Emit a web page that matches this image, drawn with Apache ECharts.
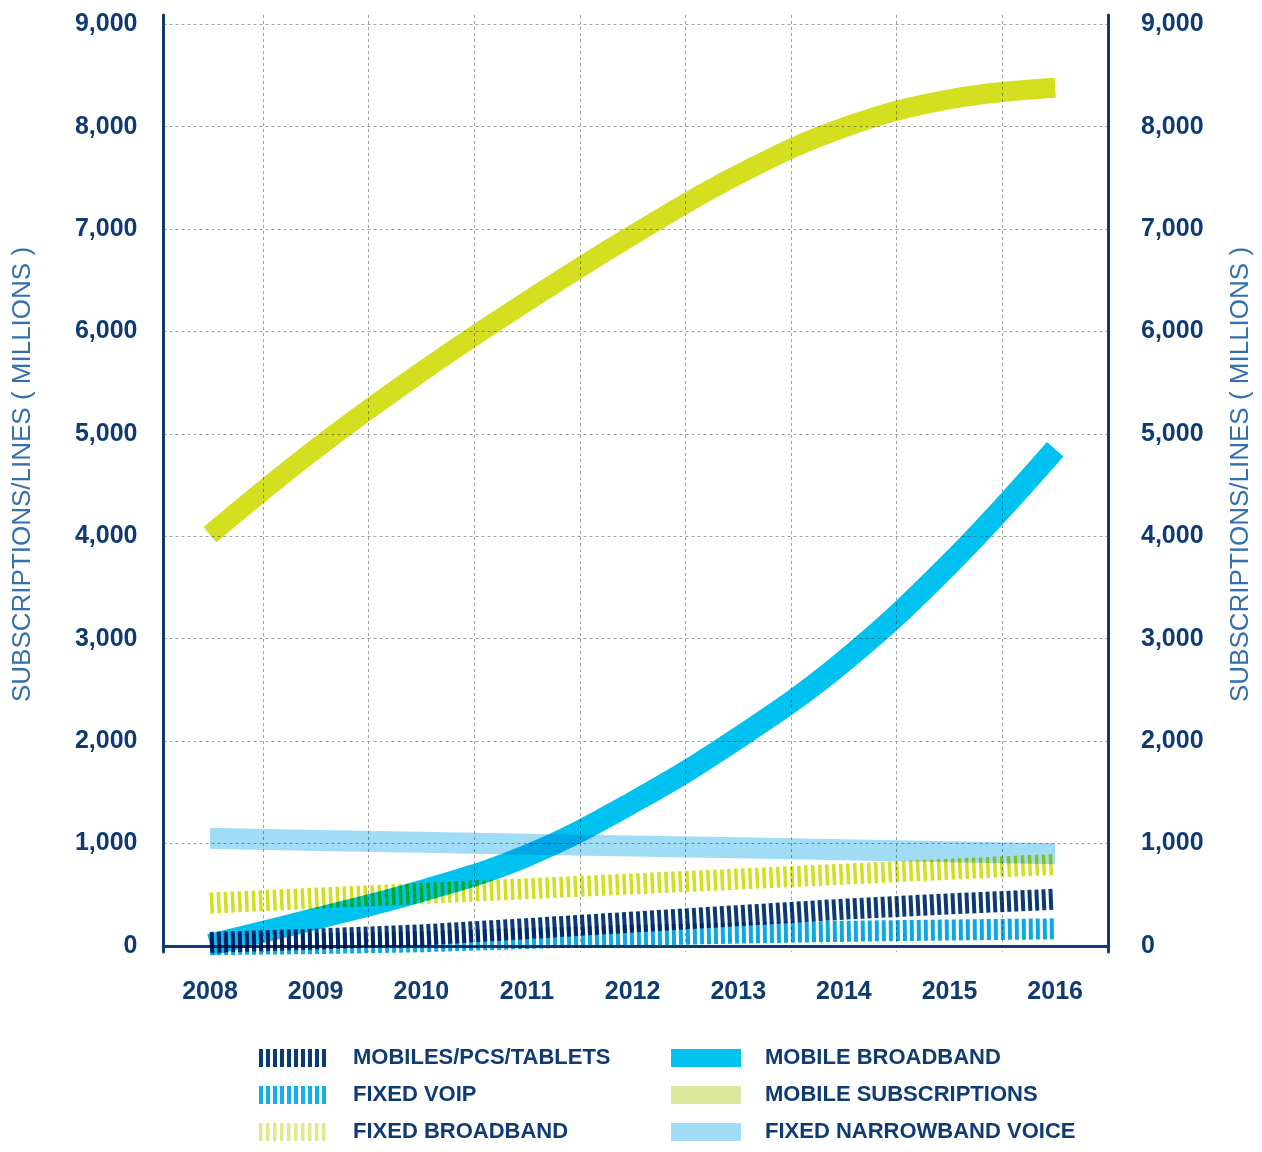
<!DOCTYPE html>
<html><head><meta charset="utf-8">
<script src="https://cdn.jsdelivr.net/npm/echarts@6/dist/echarts.min.js"></script>
<style>html,body{margin:0;padding:0;background:#fff}#c{width:1262px;height:1152px}</style>
</head><body><div id="c"></div>
<script>
const years = [2008, 2009, 2010, 2011, 2012, 2013, 2014, 2015, 2016];
const gridYears = [2008.5, 2009.5, 2010.5, 2011.5, 2012.5, 2013.5, 2014.5, 2015.5];
const yTicks = [0, 1000, 2000, 3000, 4000, 5000, 6000, 7000, 8000, 9000];
const mobilesPcsTablets = [34, 66, 107, 168, 232, 295, 358, 410, 455];
const fixedVoip = [12, 22, 40, 72, 103, 125, 142, 155, 166];
const fixedBroadband = [418, 465, 512, 558, 605, 652, 700, 748, 795];
const mobileBroadband = [10, 265, 535, 880, 1400, 2030, 2780, 3730, 4850];
const mobileSubscriptions = [4016, 4853, 5604, 6293, 6940, 7532, 7991, 8267, 8380];
const fixedNarrowbandVoice = [1050, 1030, 1012, 993, 975, 957, 938, 919, 900];

const NAVY = '#0f3b74';
const pairs = arr => years.map((y, i) => [y, arr[i]]);

const chart = echarts.init(document.getElementById('c'), null, {renderer: 'canvas'});
const fmt = v => v.toLocaleString('en-US');
const labelFont = {color: NAVY, fontSize: 25, fontWeight: 'bold', fontFamily: 'Liberation Sans, Arial, sans-serif'};
const nameStyle = {color: '#3570ad', fontSize: 26, fontWeight: 'normal', fontFamily: 'Liberation Sans, Arial, sans-serif', padding: [0, 0, 0, 18]};

function lineSeries(name, data, color, width, dash, smooth) {
  return {
    name, type: 'line', data: pairs(data), symbol: 'none', showSymbol: false, smooth: smooth ? 0.4 : false,
    lineStyle: {color, width, type: dash || 'solid', cap: 'butt', join: 'round'},
    itemStyle: {color}, silent: true
  };
}

const legendText = {color: NAVY, fontSize: 22, fontWeight: 'bold', fontFamily: 'Liberation Sans, Arial, sans-serif', padding: [0, 0, 0, 19]};
const hideSym = {opacity: 0, color: 'rgba(0,0,0,0)', borderWidth: 0};
const legendCommon = {
  top: 1047, height: 130, orient: 'vertical', itemWidth: 70, itemHeight: 18, itemGap: 15, padding: 0,
  textStyle: legendText, selectedMode: false
};

chart.setOption({
  animation: false,
  backgroundColor: '#fff',
  grid: {left: 163.5, right: 154, top: 15, bottom: 200},
  xAxis: {
    type: 'value', min: 2007.56, max: 2016.5,
    axisLine: {show: true, lineStyle: {color: NAVY, width: 3}},
    axisTick: {show: false, customValues: gridYears},
    axisLabel: {customValues: years, margin: 28, ...labelFont, formatter: v => String(v)},
    splitLine: {show: true, lineStyle: {color: '#a0a0a0', type: [3, 3], width: 1}}
  },
  yAxis: [{
    type: 'value', min: -60, max: 9090, position: 'left',
    name: 'SUBSCRIPTIONS/LINES ( MILLIONS )', nameLocation: 'middle', nameRotate: 90, nameGap: 128,
    nameTextStyle: nameStyle,
    axisLine: {show: true, lineStyle: {color: NAVY, width: 3}},
    axisTick: {show: false, customValues: yTicks},
    axisLabel: {customValues: yTicks, margin: 26, ...labelFont, formatter: fmt},
    splitLine: {show: true, lineStyle: {color: '#a0a0a0', type: [3, 3], width: 1}}
  }, {
    type: 'value', min: -60, max: 9090, position: 'right',
    name: 'SUBSCRIPTIONS/LINES ( MILLIONS )', nameLocation: 'middle', nameRotate: 90, nameGap: 120,
    nameTextStyle: nameStyle,
    axisLine: {show: true, lineStyle: {color: NAVY, width: 3}},
    axisTick: {show: false, customValues: yTicks},
    axisLabel: {customValues: yTicks, margin: 33, ...labelFont, formatter: fmt},
    splitLine: {show: false}
  }],
  legend: [Object.assign({}, legendCommon, {
    left: 250,
    data: [
      {name: 'MOBILES/PCS/TABLETS', lineStyle: {color: '#0b3a77', width: 18}, itemStyle: hideSym},
      {name: 'FIXED VOIP', lineStyle: {color: '#12b0ea', width: 18}, itemStyle: hideSym},
      {name: 'FIXED BROADBAND', lineStyle: {color: '#e2e88c', width: 18}, itemStyle: hideSym}
    ]
  }), Object.assign({}, legendCommon, {
    left: 662,
    data: [
      {name: 'MOBILE BROADBAND', lineStyle: {color: '#00c2f0', width: 18}, itemStyle: hideSym},
      {name: 'MOBILE SUBSCRIPTIONS', lineStyle: {color: '#dbe79c', width: 18}, itemStyle: hideSym},
      {name: 'FIXED NARROWBAND VOICE', lineStyle: {color: '#a0dcf6', width: 18}, itemStyle: hideSym}
    ]
  })],
  series: [
    lineSeries('FIXED BROADBAND', fixedBroadband, '#d4df20', 21, [3.5, 3.5], false),
    lineSeries('MOBILE BROADBAND', mobileBroadband, '#00c2f0', 22, null, true),
    lineSeries('FIXED VOIP', fixedVoip, '#0aa8e4', 21, [4, 3], false),
    lineSeries('MOBILES/PCS/TABLETS', mobilesPcsTablets, '#0b3a77', 21, [4, 3], false),
    lineSeries('FIXED NARROWBAND VOICE', fixedNarrowbandVoice, '#a0dcf6', 21, null, false),
    lineSeries('MOBILE SUBSCRIPTIONS', mobileSubscriptions, '#d4df20', 20, null, true)
  ]
});

let blended = false;
function applyBlend() {
  if (blended) return;
  blended = true;
  const zr = chart.getZr();
  zr.storage.getDisplayList(true).forEach(el => {
    if (el.type === 'ec-polyline') {
      el.style.blend = 'multiply';
      el.markRedraw();
    }
  });
  zr.refreshImmediately();
}
chart.on('finished', applyBlend);
setTimeout(applyBlend, 50);
</script>
</body></html>
